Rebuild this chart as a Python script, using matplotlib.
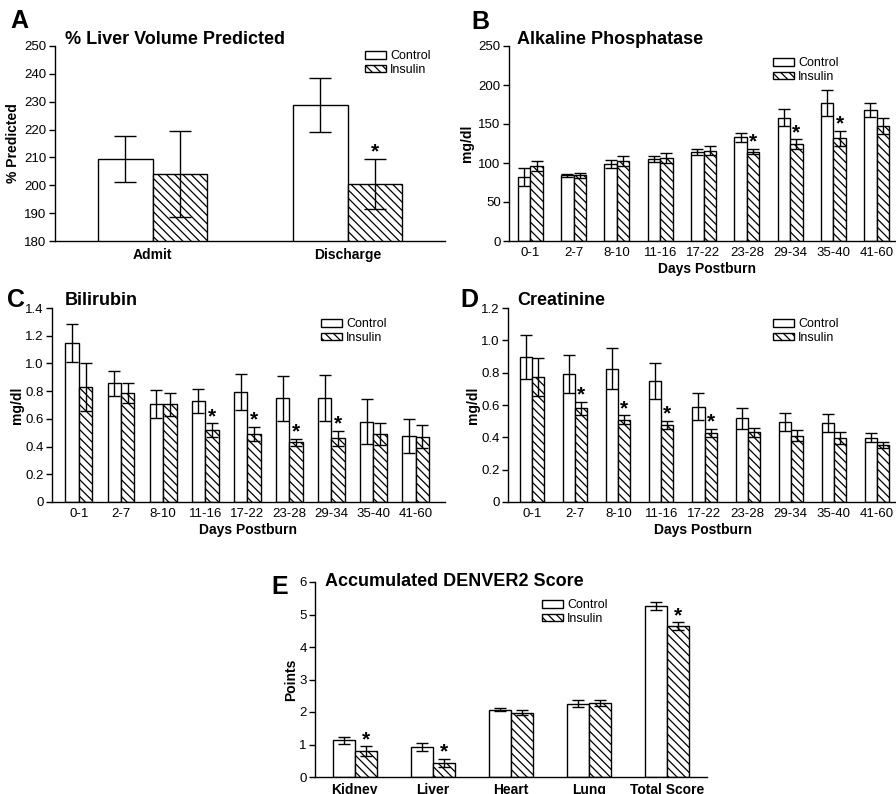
import numpy as np
import matplotlib
matplotlib.use("Agg")
import matplotlib.pyplot as plt

plt.rcParams['font.family'] = ['Liberation Sans', 'DejaVu Sans']
plt.rcParams['hatch.linewidth'] = 0.9

# ---- data ----
groups = ['Control', 'Insulin']
days = ['0-1', '2-7', '8-10', '11-16', '17-22', '23-28', '29-34', '35-40', '41-60']

liver_cats = ['Admit', 'Discharge']
liver_ctrl = [209.5, 228.8]
liver_ctrl_err = [8.3, 9.8]
liver_ins = [204.0, 200.5]
liver_ins_err = [15.5, 9.1]
liver_star = [False, True]

alp_ctrl = [82, 84, 99, 105, 114, 133, 158, 176.5, 168]
alp_ctrl_err = [11.5, 2.5, 5, 3.5, 4.3, 5.5, 11, 16.5, 9]
alp_ins = [96, 84, 103, 106, 116, 114.5, 124, 131.6, 147.4]
alp_ins_err = [6, 3, 6.5, 6.5, 6, 3.6, 6.4, 9.6, 10.7]
alp_star = [False, False, False, False, False, True, True, True, False]

bili_ctrl = [1.147, 0.856, 0.705, 0.729, 0.791, 0.748, 0.748, 0.58, 0.479]
bili_ctrl_err = [0.135, 0.088, 0.10, 0.09, 0.13, 0.16, 0.165, 0.165, 0.123]
bili_ins = [0.83, 0.787, 0.705, 0.517, 0.49, 0.43, 0.46, 0.488, 0.471]
bili_ins_err = [0.175, 0.07, 0.083, 0.05, 0.05, 0.026, 0.055, 0.08, 0.082]
bili_star = [False, False, False, True, True, True, True, False, False]

crea_ctrl = [0.897, 0.79, 0.823, 0.748, 0.59, 0.517, 0.493, 0.489, 0.398]
crea_ctrl_err = [0.139, 0.117, 0.127, 0.113, 0.083, 0.067, 0.055, 0.058, 0.026]
crea_ins = [0.773, 0.579, 0.509, 0.476, 0.427, 0.431, 0.41, 0.396, 0.353]
crea_ins_err = [0.115, 0.04, 0.027, 0.024, 0.027, 0.027, 0.035, 0.038, 0.019]
crea_star = [False, True, True, True, True, False, False, False, False]

organs = ['Kidney', 'Liver', 'Heart', 'Lung', 'Total Score']
den_ctrl = [1.13, 0.93, 2.07, 2.26, 5.27]
den_ctrl_err = [0.10, 0.12, 0.05, 0.11, 0.12]
den_ins = [0.79, 0.43, 1.98, 2.28, 4.64]
den_ins_err = [0.15, 0.12, 0.07, 0.10, 0.12]
den_star = [True, True, False, False, True]

W, H = 896, 794
fig = plt.figure(figsize=(W / 100, H / 100), dpi=100)


def px_axes(left, top, right, bottom):
    return fig.add_axes([left / W, 1 - bottom / H, (right - left) / W, (bottom - top) / H])


def ftext(x, y, s, **kw):
    fig.text(x / W, 1 - y / H, s, **kw)


def panel(ax, ctrl, ctrl_err, ins, ins_err, stars, width, capsize, xlim, ylim, yticks, yticklabels,
          xticklabels, xfont, xbold, legend_at):
    x = np.arange(len(ctrl))
    b1 = ax.bar(x - width / 2, ctrl, width, color='white', edgecolor='black', linewidth=1.0,
                label=groups[0], zorder=2)
    b2 = ax.bar(x + width / 2, ins, width, color='white', edgecolor='black', linewidth=1.0,
                hatch='\\\\\\\\', label=groups[1], zorder=2)
    ax.errorbar(x - width / 2, ctrl, yerr=ctrl_err, fmt='none', ecolor='black', elinewidth=1.0,
                capsize=capsize, capthick=1.0, zorder=3)
    ax.errorbar(x + width / 2, ins, yerr=ins_err, fmt='none', ecolor='black', elinewidth=1.0,
                capsize=capsize, capthick=1.0, zorder=3)
    for i, s in enumerate(stars):
        if s:
            ax.annotate('*', (x[i] + width / 2, ins[i] + ins_err[i]), xytext=(0, 1),
                        textcoords='offset points', ha='center', va='baseline',
                        fontsize=15, fontweight='bold')
    ax.set_xlim(*xlim)
    ax.set_ylim(*ylim)
    ax.set_yticks(yticks)
    ax.set_yticklabels(yticklabels, fontsize=9.5)
    ax.set_xticks(x)
    ax.set_xticklabels(xticklabels, fontsize=xfont, fontweight='bold' if xbold else 'normal')
    ax.tick_params(axis='x', length=0, pad=4)
    ax.tick_params(axis='y', length=4, width=1.0, pad=2, direction='out')
    for sp in ['top', 'right']:
        ax.spines[sp].set_visible(False)
    for sp in ['left', 'bottom']:
        ax.spines[sp].set_linewidth(1.0)
    ax.patch.set_alpha(0)
    ax.legend(handles=[b1, b2], loc='upper left', frameon=False, fontsize=9,
              bbox_to_anchor=(legend_at[0] / W, 1 - legend_at[1] / H), bbox_transform=fig.transFigure,
              borderpad=0, borderaxespad=0, handlelength=1.7, handleheight=0.6,
              handletextpad=0.3, labelspacing=0.15)


# A
axA = px_axes(55, 46, 445, 241)
panel(axA, liver_ctrl, liver_ctrl_err, liver_ins, liver_ins_err, liver_star, 0.28, 8,
      (-0.5, 1.5), (180, 250), range(180, 251, 10), [str(v) for v in range(180, 251, 10)],
      liver_cats, 10, True, (365, 50))
axA.set_ylabel('% Predicted', fontsize=10, fontweight='bold', labelpad=3)
axA.tick_params(axis='x', pad=5)

# B
axB = px_axes(509, 46, 898, 241)
panel(axB, alp_ctrl, alp_ctrl_err, alp_ins, alp_ins_err, alp_star, 0.29, 4.5,
      (-0.49, 8.49), (0, 250), range(0, 251, 50), [str(v) for v in range(0, 251, 50)],
      days, 9.5, False, (773, 57))
axB.set_ylabel('mg/dl', fontsize=10, fontweight='bold', labelpad=3)

# C
axC = px_axes(52, 308, 445, 502)
ct = [0, 0.2, 0.4, 0.6, 0.8, 1.0, 1.2, 1.4]
panel(axC, bili_ctrl, bili_ctrl_err, bili_ins, bili_ins_err, bili_star, 0.32, 4.3,
      (-0.64, 8.7), (0, 1.4), ct, ['0', '0.2', '0.4', '0.6', '0.8', '1.0', '1.2', '1.4'],
      days, 9.5, False, (321, 318))
axC.set_ylabel('mg/dl', fontsize=10, fontweight='bold', labelpad=1)

# D
axD = px_axes(508, 308, 901, 502)
dt = [0, 0.2, 0.4, 0.6, 0.8, 1.0, 1.2]
panel(axD, crea_ctrl, crea_ctrl_err, crea_ins, crea_ins_err, crea_star, 0.28, 4.3,
      (-0.56, 8.56), (0, 1.2), dt, ['0', '0.2', '0.4', '0.6', '0.8', '1.0', '1.2'],
      days, 9.5, False, (773, 318))
axD.set_ylabel('mg/dl', fontsize=10, fontweight='bold', labelpad=1)

# E
axE = px_axes(315, 582, 707, 777)
panel(axE, den_ctrl, den_ctrl_err, den_ins, den_ins_err, den_star, 0.28, 4,
      (-0.51, 4.51), (0, 6), range(0, 7), [str(v) for v in range(0, 7)],
      organs, 10, True, (542, 599))
axE.set_ylabel('Points', fontsize=10, fontweight='bold', labelpad=1)

# panel letters and titles
for (x, y, s) in [(19, 21, 'A'), (480, 22, 'B'), (16, 300, 'C'), (469, 300, 'D'), (280, 587, 'E')]:
    ftext(x, y, s, fontsize=18, fontweight='bold', ha='center', va='center')
for (x, y, s) in [(65, 39, '% Liver Volume Predicted'), (517, 39, 'Alkaline Phosphatase'),
                  (65, 300, 'Bilirubin'), (517, 300, 'Creatinine'),
                  (325, 582, 'Accumulated DENVER2 Score')]:
    ftext(x, y, s, fontsize=13, fontweight='bold', ha='left', va='center')
for (x, y) in [(707, 269), (248, 530), (703, 530)]:
    ftext(x, y, 'Days Postburn', fontsize=10, fontweight='bold', ha='center', va='center')

fig.savefig('out.png', dpi=100)
